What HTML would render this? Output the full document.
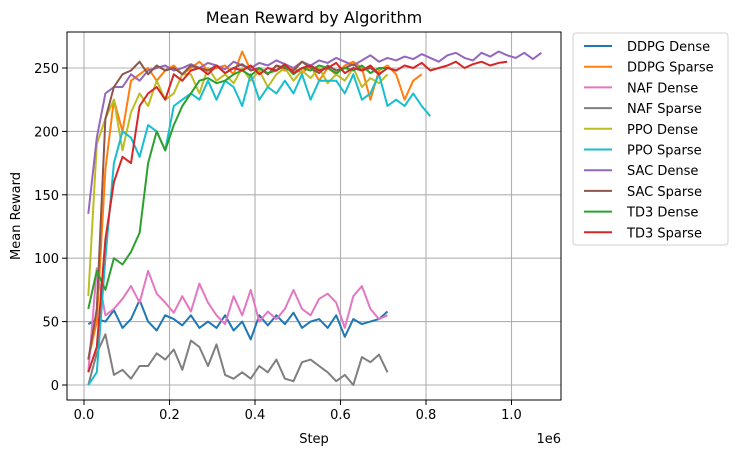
<!DOCTYPE html>
<html><head><meta charset="utf-8"><style>
body{margin:0;background:#fff;font-family:"Liberation Sans","DejaVu Sans",sans-serif}
svg text{font-family:"DejaVu Sans","Liberation Sans",sans-serif}
</style></head><body>
<svg id="chart" width="739" height="455" viewBox="0 0 739 455" xmlns="http://www.w3.org/2000/svg">
<rect width="739" height="455" fill="#fff"/>
<g id="grid"></g>
<g id="series"></g>
<rect x="67" y="32" width="494" height="368" fill="none" stroke="#000" stroke-width="1"/>
<g id="ticks"></g>
<text x="314" y="23" text-anchor="middle" font-size="16">Mean Reward by Algorithm</text>
<text x="314" y="443" text-anchor="middle" font-size="13">Step</text>
<text x="561" y="443" text-anchor="end" font-size="13">1e6</text>
<text transform="translate(20,216) rotate(-90)" text-anchor="middle" font-size="13">Mean Reward</text>
<g id="legend"></g>
</svg>
<script>
const seriesNames=["DDPG Dense","DDPG Sparse","NAF Dense","NAF Sparse","PPO Dense","PPO Sparse","SAC Dense","SAC Sparse","TD3 Dense","TD3 Sparse"];
const colors=["#1f77b4","#ff7f0e","#e377c2","#7f7f7f","#bcbd22","#17becf","#9467bd","#8c564b","#2ca02c","#d62728"];
const xTicks=[0,0.2,0.4,0.6,0.8,1.0];
const xTickLabels=["0.0","0.2","0.4","0.6","0.8","1.0"];
const yTicks=[0,50,100,150,200,250];
const stepStart=0.01, stepSize=0.02;
const ddpgDense=[48,52,50,59,45,52,67,50,43,55,52,47,55,45,50,45,55,43,50,36,55,47,55,48,57,45,50,52,45,55,38,52,48,50,52,58];
const ddpgSparse=[20,50,170,225,200,240,245,250,240,248,252,245,250,255,248,250,252,245,263,248,250,245,252,248,250,246,252,240,250,245,252,255,250,225,248,252,245,225,240,245];
const nafDense=[10,92,55,60,68,78,65,90,72,65,57,70,58,80,65,55,48,70,55,75,50,58,52,60,75,60,55,68,72,65,45,70,78,60,52,55];
const nafSparse=[0,25,40,8,12,5,15,15,25,20,28,12,35,30,15,32,8,5,10,5,15,10,20,5,3,18,20,15,10,3,8,0,22,18,24,10];
const ppoDense=[70,190,210,225,185,215,230,220,240,225,230,245,245,230,250,240,245,238,250,240,248,235,245,250,240,248,242,250,238,245,240,250,235,242,238,245];
const ppoSparse=[0,10,100,175,200,195,180,205,200,185,220,225,230,225,240,225,240,235,220,245,225,235,230,240,230,245,225,240,240,240,230,245,225,230,245,220,225,220,230,220,212];
const sacDense=[135,195,230,235,235,245,240,248,250,252,248,250,253,250,254,252,249,255,252,250,254,252,256,253,250,255,252,256,254,258,255,252,256,260,255,258,256,259,257,261,258,255,260,262,258,256,262,259,263,260,258,262,257,262];
const sacSparse=[20,60,210,235,245,248,255,245,252,248,250,245,252,250,248,252,246,250,253,248,250,245,252,250,248,255,250,246,252,248,250,253,248,250,245,250];
const td3Dense=[60,90,75,100,95,105,120,175,200,185,205,220,230,240,242,238,240,245,248,244,250,246,248,252,245,250,248,252,250,246,250,248,252,246,250,250];
const td3Sparse=[10,30,115,160,180,175,220,230,235,225,245,240,248,250,245,252,246,250,248,252,245,250,248,253,246,250,252,248,250,254,246,250,248,252,245,250,248,252,250,254,248,250,252,255,250,253,255,252,254,255];
const allSeries=[ddpgDense,ddpgSparse,nafDense,nafSparse,ppoDense,ppoSparse,sacDense,sacSparse,td3Dense,td3Sparse];
const NS="http://www.w3.org/2000/svg";
const xPix=v=>84+(v/0.2)*85.5;
const yPix=v=>385-(v/50)*63.4;
const grid=document.getElementById('grid'),ticks=document.getElementById('ticks');
function mk(tag,attrs,parent){const e=document.createElementNS(NS,tag);for(const k in attrs)e.setAttribute(k,attrs[k]);parent.appendChild(e);return e;}
xTicks.forEach((t,i)=>{const x=xPix(t);
 const g=mk('line',{x1:x,x2:x,y1:32,y2:400,stroke:'#b0b0b0','stroke-width':1.1},grid);
 
 
 const tk=mk('line',{x1:x,x2:x,y1:400,y2:405,stroke:'#000'},ticks);
 
 
 const tx=mk('text',{x:x,y:419,'text-anchor':'middle','font-size':13},ticks);tx.textContent=xTickLabels[i];
 
 
});
yTicks.forEach(t=>{const y=yPix(t);
 const g=mk('line',{x1:67,x2:561,y1:y,y2:y,stroke:'#b0b0b0','stroke-width':1.1},grid);
 
 
 const tk=mk('line',{x1:62,x2:67,y1:y,y2:y,stroke:'#000'},ticks);
 
 
 const tx=mk('text',{x:59,y:y+5,'text-anchor':'end','font-size':13},ticks);tx.textContent=t;
 
 
});
const sg=document.getElementById('series');
allSeries.forEach((d,si)=>{
 const pts=d.map((v,i)=>xPix(stepStart+i*stepSize).toFixed(1)+','+yPix(v).toFixed(1)).join(' ');
 const p=mk('polyline',{points:pts,fill:'none',stroke:colors[si],'stroke-width':2,'stroke-linejoin':'round'},sg);
 
 
});
const lg=document.getElementById('legend');
const box=mk('rect',{x:573,y:33,width:155,height:212,rx:3,fill:'#fff',stroke:'#d0d0d0'},lg);


seriesNames.forEach((n,i)=>{const y=46+i*20.7;
 const e=mk('g',{},lg);
 
 
 mk('line',{x1:584,x2:612,y1:y,y2:y,stroke:colors[i],'stroke-width':2},e);
 const t=mk('text',{x:627,y:y+5,'font-size':13},e);t.textContent=n;
});
</script>
</body></html>
